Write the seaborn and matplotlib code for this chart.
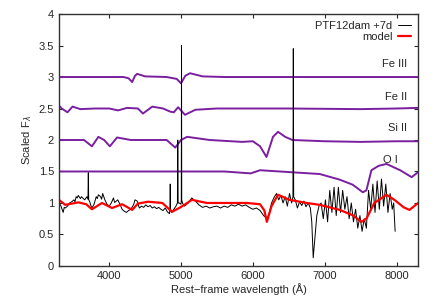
import numpy as np
import pandas as pd
import matplotlib
matplotlib.use("Agg")
import matplotlib.pyplot as plt
import seaborn as sns

obs_wave = [3300, 3315, 3330, 3345, 3360, 3375, 3390, 3420, 3450, 3480, 3510, 3525, 3540, 3555,
            3570, 3600, 3615, 3630, 3660, 3690, 3705, 3710, 3715, 3730, 3745, 3760, 3790, 3820,
            3835, 3850, 3880, 3895, 3910, 3940, 3970, 4000, 4030, 4045, 4060, 4075, 4090, 4120,
            4150, 4180, 4210, 4240, 4270, 4300, 4330, 4345, 4360, 4390, 4420, 4450, 4480, 4510,
            4540, 4570, 4600, 4630, 4660, 4690, 4720, 4750, 4780, 4810, 4840, 4845, 4850, 4855,
            4870, 4900, 4930, 4950, 4955, 4960, 4975, 5000, 5004, 5007, 5010, 5020, 5050, 5100,
            5150, 5200, 5250, 5300, 5350, 5400, 5450, 5500, 5550, 5600, 5650, 5700, 5750, 5800,
            5850, 5900, 5950, 6000, 6050, 6100, 6150, 6200, 6230, 6260, 6300, 6330, 6360, 6390,
            6420, 6450, 6480, 6510, 6540, 6558, 6563, 6568, 6590, 6620, 6650, 6680, 6710, 6740,
            6770, 6800, 6820, 6840, 6860, 6890, 6920, 6950, 6980, 7010, 7040, 7070, 7100, 7130,
            7160, 7190, 7220, 7250, 7280, 7310, 7340, 7370, 7400, 7430, 7460, 7490, 7520, 7550,
            7580, 7610, 7640, 7670, 7700, 7730, 7760, 7790, 7820, 7850, 7880, 7910, 7940, 7960,
            7980]
obs_flux = [1.05, 0.98, 0.95, 0.90, 0.85, 0.93, 0.92, 0.95, 1.00, 1.02, 1.05, 1.02, 1.10, 1.08,
            1.12, 1.07, 1.10, 1.08, 1.05, 1.10, 1.06, 1.48, 1.05, 1.02, 0.96, 0.92, 0.98, 1.10,
            1.07, 1.13, 1.10, 1.06, 1.15, 1.05, 0.98, 0.95, 1.00, 1.04, 1.08, 1.01, 1.02, 1.05,
            0.98, 0.90, 0.87, 0.85, 0.88, 0.90, 0.95, 0.99, 1.05, 1.03, 0.92, 0.95, 0.93, 0.97,
            0.94, 0.96, 0.92, 0.94, 0.91, 0.93, 0.90, 0.88, 0.92, 0.86, 0.83, 0.90, 1.30, 0.88,
            0.85, 0.90, 0.95, 1.00, 2.00, 1.00, 1.00, 0.98, 1.05, 3.50, 1.05, 1.00, 0.95, 1.00,
            1.08, 1.03, 0.97, 0.93, 0.95, 0.92, 0.94, 0.95, 0.92, 0.95, 0.93, 0.97, 0.95, 0.98,
            0.95, 0.97, 0.93, 0.90, 0.92, 0.88, 0.80, 0.75, 0.85, 1.00, 1.10, 1.15, 1.05, 1.12,
            1.00, 1.10, 0.95, 1.15, 1.00, 1.10, 3.45, 1.10, 1.05, 0.92, 1.02, 0.96, 1.03, 0.94,
            1.00, 0.92, 0.70, 0.13, 0.40, 0.80, 0.95, 1.00, 0.75, 1.05, 0.70, 1.20, 0.85, 1.25,
            0.80, 1.25, 0.85, 1.20, 0.90, 1.10, 0.75, 1.00, 0.70, 0.90, 0.60, 0.80, 0.55, 0.75,
            0.60, 1.20, 0.90, 1.30, 0.85, 1.35, 0.90, 1.38, 0.95, 1.30, 0.85, 1.15, 0.90, 1.00,
            0.55]

# model spectrum
model_wave = [3300, 3390, 3480, 3570, 3680, 3760, 3900, 4040, 4180, 4320, 4400, 4540, 4740,
              4875, 4990, 5060, 5150, 5360, 5600, 5920, 6100, 6160, 6195, 6260, 6350, 6510,
              6750, 6930, 7210, 7400, 7510, 7580, 7690, 7860, 7970, 8100, 8180, 8300]
model_flux = [1.05, 0.97, 0.99, 1.01, 0.98, 0.90, 1.00, 0.92, 0.98, 0.89, 0.99, 1.02, 1.00,
              0.86, 0.93, 0.98, 1.05, 1.00, 1.00, 1.00, 0.98, 0.88, 0.70, 0.95, 1.13, 1.05,
              1.00, 0.97, 0.89, 0.80, 0.70, 0.75, 1.00, 1.13, 1.05, 0.93, 0.89, 1.00]

# single-ion contributions (offset)
fe3_wave = [3300, 4200, 4270, 4320, 4360, 4390, 4500, 4800, 4940, 5000, 5060, 5125, 5300,
            5600, 8300]
fe3_flux = [3.00, 3.00, 2.98, 2.92, 3.02, 3.05, 3.01, 3.00, 2.97, 2.90, 3.02, 3.06, 3.01,
            3.00, 3.00]

fe2_wave = [3300, 3340, 3420, 3490, 3600, 3800, 4000, 4125, 4250, 4400, 4470, 4600, 4750,
            4850, 4900, 4960, 5055, 5200, 5500, 6000, 6500, 7500, 8000, 8300]
fe2_flux = [2.55, 2.50, 2.44, 2.53, 2.49, 2.50, 2.50, 2.47, 2.51, 2.50, 2.42, 2.53, 2.50,
            2.45, 2.44, 2.52, 2.40, 2.48, 2.50, 2.50, 2.50, 2.49, 2.50, 2.51]

si2_wave = [3300, 3650, 3760, 3850, 3930, 4010, 4110, 4300, 4800, 4920, 5000, 5085, 5400,
            5850, 6000, 6100, 6190, 6280, 6350, 6450, 6550, 7000, 7500, 8000, 8300]
si2_flux = [2.00, 2.00, 1.90, 2.05, 2.00, 1.90, 2.04, 2.00, 2.00, 1.88, 2.00, 2.05, 2.00,
            1.97, 1.98, 1.90, 1.73, 2.05, 2.13, 2.05, 2.00, 1.98, 1.97, 1.98, 1.98]

o1_wave = [3300, 5000, 5600, 5970, 6100, 6650, 6930, 7210, 7390, 7530, 7580, 7650, 7750,
           7860, 8050, 8210, 8300]
o1_flux = [1.50, 1.50, 1.50, 1.47, 1.52, 1.48, 1.46, 1.37, 1.29, 1.17, 1.20, 1.52, 1.59,
           1.62, 1.52, 1.41, 1.49]

ion_labels = ["Fe III", "Fe II", "Si II", "O I"]
ion_label_pos = [(8150, 3.2), (8150, 2.68), (8150, 2.19), (8010, 1.68)]

purple = "#7a1fa0"

sns.set_style("ticks")
plt.rcParams["font.family"] = ["Liberation Sans", "DejaVu Sans"]

fig = plt.figure(figsize=(4.36, 3.05), dpi=100)
ax = fig.add_axes([0.135, 0.128, 0.824, 0.826])

for w, f in [(fe3_wave, fe3_flux), (fe2_wave, fe2_flux), (si2_wave, si2_flux), (o1_wave, o1_flux)]:
    sns.lineplot(x=w, y=f, ax=ax, color=purple, lw=1.4, sort=False, estimator=None)

sns.lineplot(x=obs_wave, y=obs_flux, ax=ax, color="black", lw=0.7, sort=False,
             estimator=None, label="PTF12dam +7d")
sns.lineplot(x=model_wave, y=model_flux, ax=ax, color="red", lw=1.6, sort=False,
             estimator=None, label="model")

for lab, (x, y) in zip(ion_labels, ion_label_pos):
    ax.text(x, y, lab, ha="right", va="center", fontsize=8)

ax.set_xlim(3300, 8300)
ax.set_ylim(0, 4)
ax.set_xticks([4000, 5000, 6000, 7000, 8000])
ax.set_yticks([0, 0.5, 1, 1.5, 2, 2.5, 3, 3.5, 4])
ax.set_yticklabels(["0", "0.5", "1", "1.5", "2", "2.5", "3", "3.5", "4"])
ax.tick_params(direction="in", top=True, right=True, labelsize=8, length=3, width=0.8)
for s in ax.spines.values():
    s.set_linewidth(1.0)
    s.set_color("#333333")
ax.set_xlabel("Rest\u2212frame wavelength (\u00c5)", fontsize=8, labelpad=2)
ax.set_ylabel("Scaled F$_\\lambda$", fontsize=8, labelpad=3)

leg = ax.legend(loc="upper right", frameon=False, fontsize=8, markerfirst=False,
                handlelength=1.2, handletextpad=0.5, borderaxespad=0.2, labelspacing=0.1)

fig.savefig("out.png", dpi=100)
